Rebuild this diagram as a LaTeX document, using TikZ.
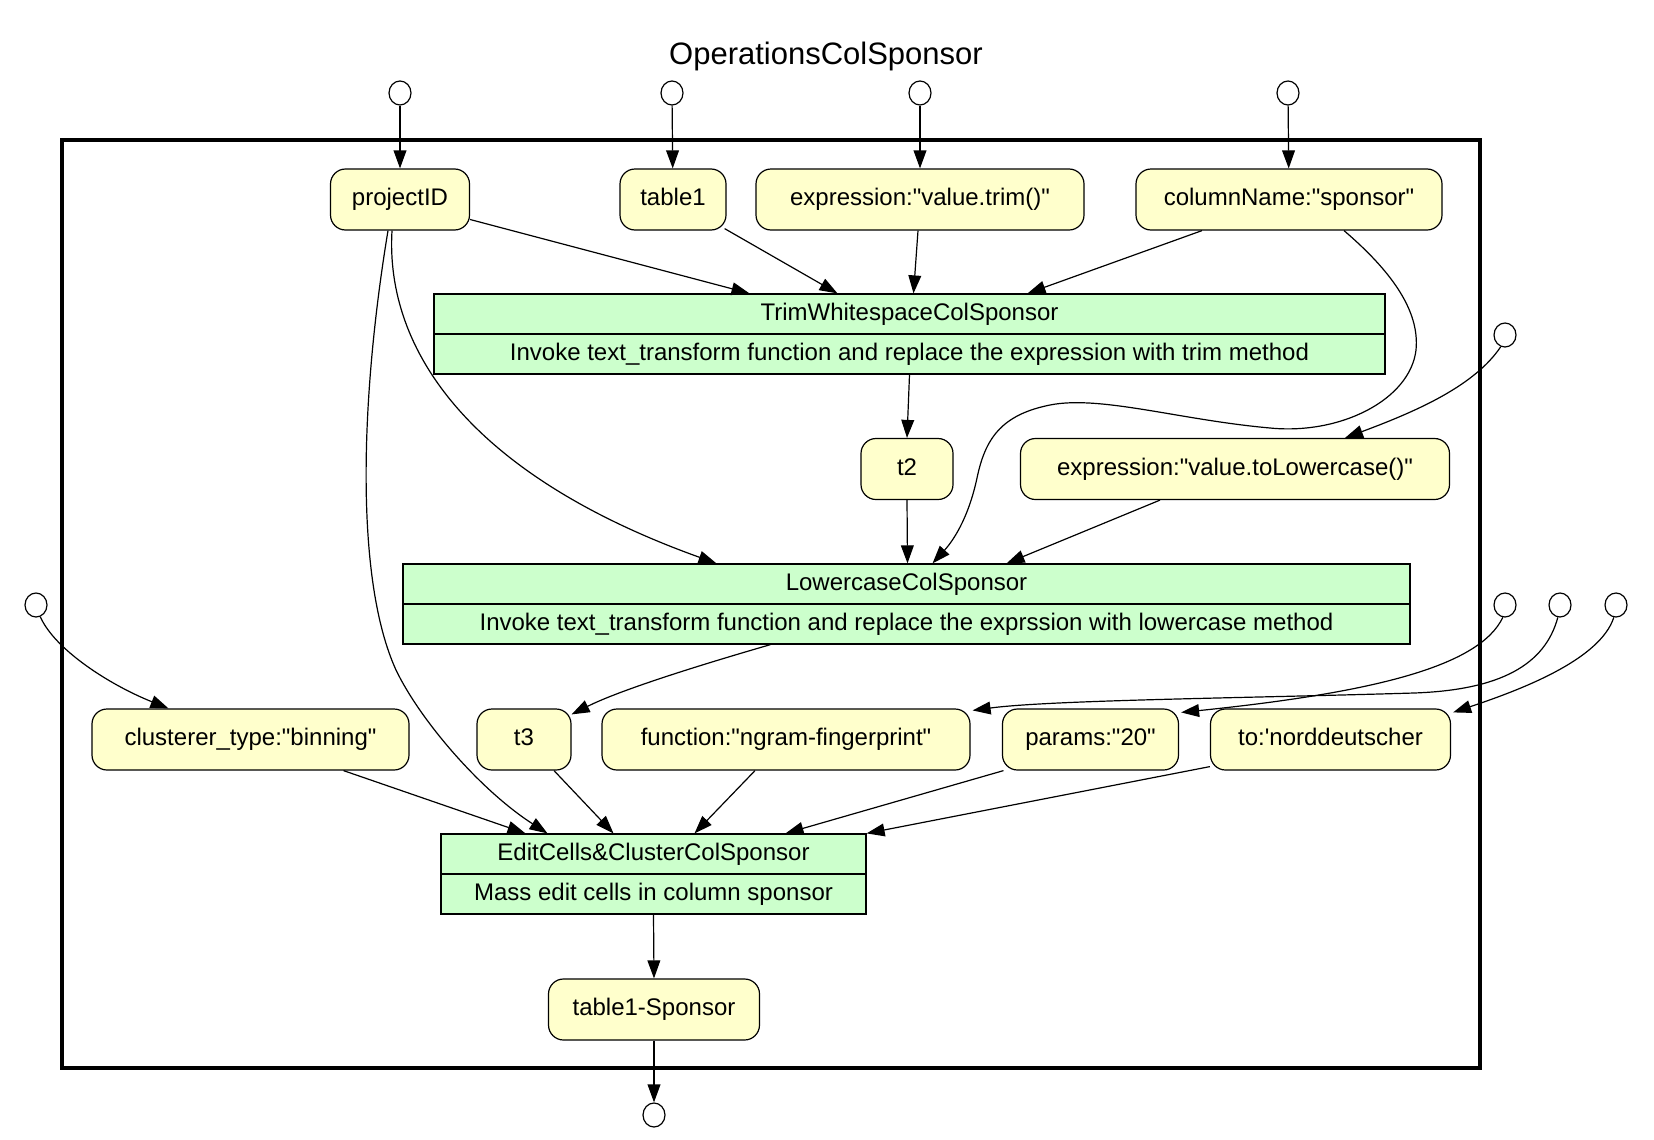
\documentclass[tikz,border=0pt]{standalone}
\usepackage{fontspec}
\setmainfont{Liberation Sans}
\usetikzlibrary{shapes.geometric,arrows.meta}
\definecolor{datafill}{RGB}{255,255,204}
\definecolor{procfill}{RGB}{204,255,204}
\newcommand{\dq}{\textquotedbl}
\tikzset{
  datanode/.style={draw, line width=0.6pt, fill=datafill, rounded corners=7.5pt, minimum height=30.5pt, inner sep=0pt, text height=8.8pt, text depth=2.6pt, font=\fontsize{12}{14}\selectfont},
  procnode/.style={draw, line width=0.6pt, fill=procfill, minimum height=20pt, inner sep=0pt, text height=8.8pt, text depth=2.6pt, font=\fontsize{12}{14}\selectfont},
  portnode/.style={draw, line width=0.6pt, ellipse, fill=white, minimum width=11pt, minimum height=12pt, inner sep=0pt},
  conn/.style={line width=0.6pt, -{Triangle[length=9pt,width=6.4pt]}},
}
\begin{document}
\begin{tikzpicture}[x=0.5pt,y=-0.5pt]
\useasboundingbox (0,0) rectangle (1654,1140);
\node[font=\fontsize{15.5}{18}\selectfont] (title) at (826,56) {OperationsColSponsor};
\draw[line width=1.6pt] (62,140) rectangle (1480,1068);

% ports
\node[portnode] (c1) at (400,93) {};
\node[portnode] (c2) at (672,93) {};
\node[portnode] (c3) at (920,93) {};
\node[portnode] (c4) at (1288,93) {};
\node[portnode] (c5) at (1505,335) {};
\node[portnode] (c6) at (36,605) {};
\node[portnode] (c7) at (1505,605) {};
\node[portnode] (c8) at (1560,605) {};
\node[portnode] (c9) at (1616,605) {};
\node[portnode] (c10) at (654,1115) {};

% data nodes
\node[datanode, minimum width=69.5pt] (pid) at (400,199.5) {projectID};
\node[datanode, minimum width=53pt] (tab) at (673,199.5) {table1};
\node[datanode, minimum width=164pt] (etrim) at (920,199.5) {expression:\dq value.trim()\dq};
\node[datanode, minimum width=153pt] (cname) at (1289,199.5) {columnName:\dq sponsor\dq};
\node[datanode, minimum width=46pt] (t2) at (907,469) {t2};
\node[datanode, minimum width=214.5pt] (elow) at (1235,469) {expression:\dq value.toLowercase()\dq};
\node[datanode, minimum width=158.5pt] (clus) at (250.5,739.5) {clusterer\_type:\dq binning\dq};
\node[datanode, minimum width=47pt] (t3) at (524,739.5) {t3};
\node[datanode, minimum width=184pt] (func) at (786,739.5) {function:\dq ngram-fingerprint\dq};
\node[datanode, minimum width=88pt] (par) at (1090.5,739.5) {params:\dq 20\dq};
\node[datanode, minimum width=120pt] (to) at (1330.5,739.5) {to:\textquotesingle norddeutscher};
\node[datanode, minimum width=105.5pt] (out) at (654,1009.5) {table1-Sponsor};

% process nodes
\node[procnode, minimum width=475.5pt] (trim) at (909.5,314) {TrimWhitespaceColSponsor};
\node[procnode, minimum width=475.5pt] (trimd) at (909.5,354) {Invoke text\_transform function and replace the expression with trim method};
\node[procnode, minimum width=503.5pt] (low) at (906.5,584) {LowercaseColSponsor};
\node[procnode, minimum width=503.5pt] (lowd) at (906.5,624) {Invoke text\_transform function and replace the exprssion with lowercase method};
\node[procnode, minimum width=212.5pt] (edit) at (653.5,854) {EditCells\&ClusterColSponsor};
\node[procnode, minimum width=212.5pt] (editd) at (653.5,894) {Mass edit cells in column sponsor};

% port edges
\draw[conn] (c1) -- (pid);
\draw[conn] (c2) -- (tab);
\draw[conn] (c3) -- (etrim);
\draw[conn] (c4) -- (cname);

% into Trim
\draw[conn] ([yshift=-10pt]pid.east) -- ([xshift=-80pt]trim.north);
\draw[conn] ([xshift=-1pt,yshift=1pt]tab.south east) -- ([xshift=-36pt]trim.north);
\draw[conn] ([xshift=-1pt]etrim.south) -- ([xshift=2pt]trim.north);
\draw[conn] ([xshift=-43.5pt]cname.south) -- ([xshift=59pt]trim.north);

% into Lowercase
\draw[conn] ([xshift=27.5pt]cname.south) .. controls (1390,270) and (1420,310) .. (1416,350)
  .. controls (1410,400) and (1340,435) .. (1270,428)
  .. controls (1180,420) and (1100,395) .. (1050,405)
  .. controls (1000,415) and (985,440) .. (977,478)
  .. controls (968,520) and (952,542) .. ([xshift=13pt]low.north);
\draw[conn] ([xshift=-4pt]pid.south) .. controls (385,350) and (470,475) .. ([xshift=-95pt]low.north);
\draw[conn] (trimd.south) -- (t2.north);
\draw[conn] (t2.south) -- ([xshift=0.5pt]low.north);
\draw[conn] ([xshift=-37.5pt]elow.south) -- ([xshift=50pt]low.north);
\draw[conn] (c5.250) .. controls (1475,385) and (1420,410) .. ([xshift=55pt]elow.north);

% into EditCells
\draw[conn] ([xshift=-68pt]lowd.south) .. controls (700,665) and (620,690) .. ([yshift=-3pt]t3.north east);
\draw[conn] (c6.290) .. controls (55,650) and (110,685) .. ([xshift=-41pt]clus.north);
\draw[conn] (c7.260) .. controls (1480,665) and (1380,692) .. ([xshift=1pt,yshift=-2pt]par.north east);
\draw[conn] (c8.260) .. controls (1545,665) and (1500,690) .. (1414,693)
  .. controls (1250,698) and (1050,700) .. ([xshift=1pt,yshift=-1pt]func.north east);
\draw[conn] (c9.260) .. controls (1600,660) and (1520,690) .. ([xshift=1pt,yshift=-2pt]to.north east);
\draw[conn] ([xshift=-6pt]pid.south) .. controls (360,400) and (355,580) .. (396,670)
  .. controls (420,720) and (480,790) .. ([xshift=-53pt]edit.north);
\draw[conn] ([xshift=46.5pt]clus.south) -- ([xshift=-64pt]edit.north);
\draw[conn] ([xshift=15pt]t3.south) -- ([xshift=-20pt]edit.north);
\draw[conn] ([xshift=-15.5pt]func.south) -- ([xshift=20.5pt]edit.north);
\draw[conn] ([xshift=-43.5pt]par.south) -- ([xshift=66pt]edit.north);
\draw[conn] ([yshift=2pt]to.south west) -- (edit.north east);

% output
\draw[conn] (editd.south) -- (out.north);
\draw[conn] (out.south) -- (c10.north);
\end{tikzpicture}
\end{document}
